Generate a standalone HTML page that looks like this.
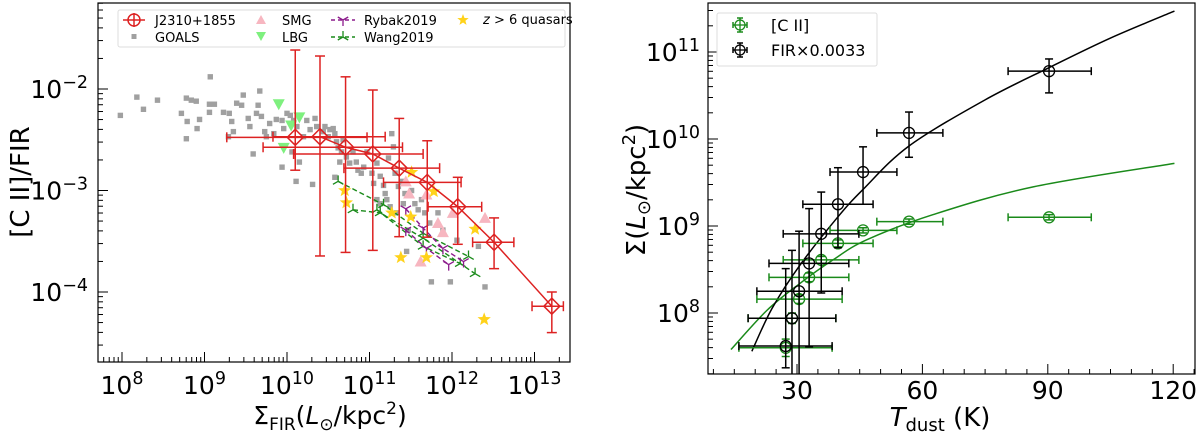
<!DOCTYPE html>
<html><head><meta charset="utf-8"><style>
body{margin:0;background:#fff;width:1200px;height:435px;overflow:hidden}
svg{font-family:"DejaVu Sans","Liberation Sans",sans-serif}
</style></head><body>
<svg id="c" width="1200" height="435" viewBox="0 0 1200 435"></svg>
<script>
// ---------- LEFT PANEL DATA (log10 values) ----------
const goalsX=[7.98,8.18,8.26,8.43,8.72,8.78,8.84,8.90,8.79,8.94,8.91,8.78,9.06,9.12,9.07,9.06,9.23,9.30,9.33,9.29,9.35,9.39,9.45,9.47,9.53,9.55,9.59,9.65,9.67,9.63,9.69,9.73,9.75,9.79,9.84,9.87,9.94,9.96,9.94,10.0,10.04,10.08,10.12,10.06,10.11,10.15,10.20,10.24,10.28,10.31,10.34,10.36,10.44,10.46,10.50,10.52,10.56,10.58,10.60,10.62,10.64,10.66,10.58,10.68,10.72,10.76,10.80,10.84,10.86,10.90,10.93,10.97,11.03,11.05,11.09,11.13,11.17,11.19,11.21,11.23,11.27,11.29,11.31,11.35,11.39,11.43,11.47,11.45,11.51,11.55,11.59,11.63,11.67,11.73,11.75,11.83,11.89,11.98,12.06,12.32,12.40,11.25,11.33,11.41,11.09,11.13];
const goalsY=[-2.26,-2.08,-2.20,-2.11,-2.24,-2.09,-2.11,-2.12,-2.32,-2.30,-2.39,-2.49,-2.15,-2.15,-1.88,-2.23,-2.23,-2.24,-2.32,-2.47,-2.42,-2.14,-2.16,-2.06,-2.29,-2.37,-2.64,-2.16,-2.02,-2.24,-2.27,-2.42,-2.47,-2.34,-2.44,-2.30,-2.31,-2.39,-2.77,-2.24,-2.26,-2.31,-2.37,-2.62,-2.91,-2.72,-2.47,-2.31,-2.40,-2.94,-2.29,-2.37,-2.42,-2.37,-2.47,-2.40,-2.39,-2.44,-2.52,-2.58,-2.72,-2.62,-2.87,-2.50,-2.67,-2.73,-2.62,-2.72,-2.80,-2.83,-2.77,-2.62,-2.83,-2.93,-2.73,-2.86,-2.95,-3.03,-3.09,-2.68,-2.44,-2.57,-2.83,-2.96,-2.91,-3.03,-3.39,-3.60,-3.00,-3.13,-3.19,-3.09,-3.22,-3.32,-3.90,-3.22,-3.39,-3.90,-3.49,-3.55,-3.95,-3.16,-3.22,-3.13,-3.09,-3.13];
const lbgX=[9.90,10.15,10.05,9.96];
const lbgY=[-2.15,-2.28,-2.36,-2.58];
const smgX=[11.44,11.48,11.69,11.83,11.89,12.01,12.40,11.62];
const smgY=[-2.91,-3.03,-3.04,-3.32,-3.41,-3.22,-3.27,-3.70];
const qsoX=[10.70,10.72,11.27,11.50,11.38,11.69,11.51,11.78,12.28,12.39];
const qsoY=[-3.00,-3.12,-3.22,-3.26,-3.66,-3.66,-2.82,-3.01,-3.38,-4.27];
const rybakAX=[11.44,11.65,11.89,12.14], rybakAY=[-3.18,-3.37,-3.57,-3.70];
const rybakBX=[11.44,11.69,11.96], rybakBY=[-3.39,-3.57,-3.73];
const wang1X=[10.62,11.17,11.65,12.20], wang1Y=[-2.91,-3.14,-3.42,-3.65];
const wang2X=[10.80,11.13,11.65,12.28], wang2Y=[-3.19,-3.22,-3.47,-3.82];
const wang3X=[11.09,11.65,12.10], wang3Y=[-3.19,-3.55,-3.72];
const jX=[10.10,10.40,10.71,11.04,11.36,11.70,12.07,12.51,13.21];
const jY=[-2.476,-2.47,-2.574,-2.64,-2.78,-2.92,-3.16,-3.51,-4.14];
const jXlo=[9.27,9.83,9.71,10.08,10.69,11.17,11.71,12.25,12.97];
const jXhi=[10.97,11.19,11.40,11.65,11.85,12.11,12.36,12.75,13.35];
const jYhi=[-1.616,-1.675,-1.88,-2.01,-2.29,-2.51,-2.87,-3.27,-4.0];
const jYlo=[-2.80,-3.645,-3.61,-3.59,-3.455,-3.46,-3.53,-3.77,-4.40];
const lxTicks=[8,9,10,11,12,13], lyTicks=[-2,-3,-4];
// ---------- RIGHT PANEL DATA ----------
const tdust=[90.3,56.8,45.8,39.8,35.8,32.9,30.5,28.8,27.3];
const tLo=[80.5,49.1,37.9,31.4,26.7,23.3,20.4,18.3,16.1];
const tHi=[100.4,64.9,53.9,48.2,44.8,42.4,40.8,39.3,38.4];
const firLog=[10.78,10.07,9.62,9.25,8.91,8.57,8.25,7.94,7.62];
const firHi=[10.92,10.31,9.91,9.67,9.39,9.20,8.94,8.72,8.51];
const firLo=[10.53,9.79,9.25,8.75,8.23,7.61,7.0,7.0,7.37];
const ciiLog=[9.10,9.05,8.95,8.80,8.61,8.41,8.16,7.94,7.60];
const ciiErr=[0.03,0.03,0.03,0.04,0.04,0.05,0.05,0.06,0.10];
const firCurveT=[19.2,24,30.7,39.7,45.8,56.8,75,90.3,105,120.3];
const firCurveL=[7.56,8.05,8.55,9.10,9.42,9.92,10.45,10.82,11.16,11.47];
const ciiCurveT=[14.2,22.8,30.7,38.6,46.6,62.5,86.5,120.3];
const ciiCurveL=[7.58,8.03,8.34,8.61,8.84,9.13,9.45,9.72];
const rxTicks=[30,60,90,120], ryTicks=[8,9,10,11];

const NS='http://www.w3.org/2000/svg', svg=document.getElementById('c');
function el(t,a,p){const e=document.createElementNS(NS,t);for(const k in a)e.setAttribute(k,a[k]);(p||svg).appendChild(e);return e;}
function grp(name){const g=el('g',{});return g;}
const LX=l=>122+(l-8)*82.5, LY=l=>89+(-2-l)*101.5;
const RX=t=>797+(t-30)*4.18, RY=l=>52+(11-l)*87;
function crPath(xs,ys){let d='M'+xs[0]+','+ys[0];for(let i=0;i<xs.length-1;i++){const x0=xs[Math.max(i-1,0)],y0=ys[Math.max(i-1,0)],x1=xs[i],y1=ys[i],x2=xs[i+1],y2=ys[i+1],x3=xs[Math.min(i+2,xs.length-1)],y3=ys[Math.min(i+2,ys.length-1)];d+=` C${x1+(x2-x0)/6},${y1+(y2-y0)/6} ${x2-(x3-x1)/6},${y2-(y3-y1)/6} ${x2},${y2}`;}return d;}
function sup(g,x,y,base,exp,size,anchor){const t=el('text',{x:x,y:y,'font-size':size,'text-anchor':anchor||'middle',fill:'#000'},g);t.textContent=base;const s=el('tspan',{'font-size':size*0.7,dy:-size*0.4},t);s.textContent=exp;return t;}
function star(g,cx,cy,r,fill){let p='';for(let i=0;i<10;i++){const a=-Math.PI/2+i*Math.PI/5,rr=i%2?r*0.42:r;p+=(cx+rr*Math.cos(a))+','+(cy+rr*Math.sin(a))+' ';}return el('polygon',{points:p,fill:fill},g);}
function ymark(g,cx,cy,r,c,down){const s=down?1:-1;el('path',{d:`M${cx},${cy} L${cx},${cy-s*r} M${cx},${cy} L${cx-r*0.87},${cy+s*r*0.5} M${cx},${cy} L${cx+r*0.87},${cy+s*r*0.5}`,stroke:c,'stroke-width':1.3,fill:'none'},g);}

// ===== LEFT PANEL =====
const lf=grp('left-plot-frame');
el('rect',{x:98,y:3,width:472,height:359,fill:'none',stroke:'#000','stroke-width':1.2},lf);
const lax=grp('left-x-axis');
for(let d=8;d<=13;d++){for(let m=1;m<10;m++){const x=LX(d+Math.log10(m));if(x<98||x>570)continue;el('line',{x1:x,x2:x,y1:362,y2:362-(m==1?10:5),stroke:'#000','stroke-width':1},lax);}}
for(let m=2;m<10;m++){const x=LX(7+Math.log10(m));if(x>98)el('line',{x1:x,x2:x,y1:362,y2:357,stroke:'#000'},lax);}
lxTicks.forEach(v=>{const t=sup(lax,LX(v),394,'10',String(v),25);});
const lxt=el('text',{x:330,y:424,'font-size':25,'text-anchor':'middle'},lax);
lxt.innerHTML='Σ<tspan font-size="17" dy="6">FIR</tspan><tspan dy="-6">(</tspan><tspan font-style="italic">L</tspan><tspan font-size="17" dy="6">⊙</tspan><tspan dy="-6">/kpc</tspan><tspan font-size="17" dy="-10">2</tspan><tspan dy="10">)</tspan>';
const lay=grp('left-y-axis');
for(let d=-5;d<=-2;d++){for(let m=1;m<10;m++){const y=LY(d+Math.log10(m));if(y<3||y>362)continue;el('line',{x1:98,x2:98+(m==1?10:5),y1:y,y2:y,stroke:'#000'},lay);}}
lyTicks.forEach(v=>{const t=sup(lay,88,LY(v)+9,'10','−'+(-v),25,'end');});
const lyt=el('text',{x:0,y:0,'font-size':26,'text-anchor':'middle',transform:'translate(29,182) rotate(-90)'},lay);lyt.textContent='[C II]/FIR';


const gg=grp('goals-points');
goalsX.forEach((v,i)=>{const r=el('rect',{x:LX(v)-2.7,y:LY(goalsY[i])-2.7,width:5.4,height:5.4,fill:'#a0a0a0'},gg);});
const lg=grp('lbg-points');
lbgX.forEach((v,i)=>{const x=LX(v),y=LY(lbgY[i]);const p=el('polygon',{points:`${x-6},${y-5} ${x+6},${y-5} ${x},${y+6}`,fill:'#7ef07e'},lg);});
const sg=grp('smg-points');
smgX.forEach((v,i)=>{const x=LX(v),y=LY(smgY[i]);const p=el('polygon',{points:`${x-6},${y+5} ${x+6},${y+5} ${x},${y-6}`,fill:'#f7b6c0'},sg);});
function dashSeries(name,xs,ys,c,down){const g=grp(name);const X=xs.map(LX),Y=ys.map(LY);el('polyline',{points:X.map((x,i)=>x+','+Y[i]).join(' '),fill:'none',stroke:c,'stroke-width':1.4,'stroke-dasharray':'5,3'},g);X.forEach((x,i)=>ymark(g,x,Y[i],6,c,down));}
dashSeries('wang2019-line-1',wang1X,wang1Y,'#1a8a1a',true);
dashSeries('wang2019-line-2',wang2X,wang2Y,'#1a8a1a',true);
dashSeries('wang2019-line-3',wang3X,wang3Y,'#1a8a1a',true);
dashSeries('rybak2019-line-1',rybakAX,rybakAY,'#8b1a8b',false);
dashSeries('rybak2019-line-2',rybakBX,rybakBY,'#8b1a8b',false);
const qg=grp('quasar-points');
qsoX.forEach((v,i)=>{const s=star(qg,LX(v),LY(qsoY[i]),7,'#ffd21a');});
const jg=grp('j2310-series');const red='#dd2222';
el('polyline',{points:jX.map((v,i)=>LX(v)+','+LY(jY[i])).join(' '),fill:'none',stroke:red,'stroke-width':1.5},jg);
jX.forEach((v,i)=>{const x=LX(v),y=LY(jY[i]);
 el('line',{x1:LX(jXlo[i]),x2:LX(jXhi[i]),y1:y,y2:y,stroke:red,'stroke-width':1.5},jg);
 el('line',{x1:x,x2:x,y1:LY(jYhi[i]),y2:LY(jYlo[i]),stroke:red,'stroke-width':1.5},jg);
 [LX(jXlo[i]),LX(jXhi[i])].forEach(cx=>el('line',{x1:cx,x2:cx,y1:y-5,y2:y+5,stroke:red,'stroke-width':1.5},jg));
 [LY(jYhi[i]),LY(jYlo[i])].forEach(cy=>el('line',{x1:x-5,x2:x+5,y1:cy,y2:cy,stroke:red,'stroke-width':1.5},jg));
 const m=el('polygon',{points:`${x},${y-8} ${x+8},${y} ${x},${y+8} ${x-8},${y}`,fill:'none',stroke:red,'stroke-width':1.5},jg);});
// legend
const lleg=grp('left-legend');
el('rect',{x:118,y:10,width:447,height:37,fill:'#fff',stroke:'#ddd','stroke-width':1,rx:2},lleg);
function ltxt(x,y,s,name){const t=el('text',{x:x,y:y,'font-size':13},lleg);t.innerHTML=s;}
el('line',{x1:123,x2:145,y1:20,y2:20,stroke:red,'stroke-width':1.5},lleg);
el('circle',{cx:134,cy:20,r:6,fill:'none',stroke:red,'stroke-width':1.5},lleg);el('line',{x1:134,x2:134,y1:13,y2:27,stroke:red,'stroke-width':1.5},lleg);
ltxt(155,25,'J2310+1855','legend-j2310');
el('rect',{x:131.5,y:34,width:5,height:5,fill:'#a0a0a0'},lleg);ltxt(155,42,'GOALS','legend-goals');
el('polygon',{points:'256,24 266,24 261,15',fill:'#f7b6c0'},lleg);ltxt(282,25,'SMG','legend-smg');
el('polygon',{points:'256,32 266,32 261,41',fill:'#7ef07e'},lleg);ltxt(282,42,'LBG','legend-lbg');
el('line',{x1:331,x2:355,y1:20,y2:20,stroke:'#8b1a8b','stroke-dasharray':'4,3','stroke-width':1.4},lleg);ymark(lleg,343,20,6,'#8b1a8b',false);ltxt(364,25,'Rybak2019','legend-rybak2019');
el('line',{x1:331,x2:355,y1:37,y2:37,stroke:'#1a8a1a','stroke-dasharray':'4,3','stroke-width':1.4},lleg);ymark(lleg,343,37,6,'#1a8a1a',true);ltxt(364,42,'Wang2019','legend-wang2019');
star(lleg,463,20,6,'#ffd21a');ltxt(483,24,'<tspan font-style="italic">z</tspan> &gt; 6 quasars','legend-quasars');

// ===== RIGHT PANEL =====
const rf=grp('right-plot-frame');
el('rect',{x:708,y:3,width:487,height:371,fill:'none',stroke:'#000','stroke-width':1.2},rf);
const rax=grp('right-x-axis');
for(let t=10;t<=125;t+=5){const x=RX(t);if(x<708||x>1195)continue;el('line',{x1:x,x2:x,y1:374,y2:374-(t%30==0?10:5),stroke:'#000'},rax);}
rxTicks.forEach(v=>{const t=el('text',{x:RX(v),y:399,'font-size':25,'text-anchor':'middle'},rax);t.textContent=v;});
const rxt=el('text',{x:940,y:426,'font-size':26,'text-anchor':'middle'},rax);rxt.innerHTML='<tspan font-style="italic">T</tspan><tspan font-size="18" dy="5">dust</tspan><tspan dy="-5"> (K)</tspan>';

const ray=grp('right-y-axis');
for(let d=7;d<=11;d++){for(let m=1;m<10;m++){const y=RY(d+Math.log10(m));if(y<3||y>374)continue;el('line',{x1:708,x2:708+(m==1?10:5),y1:y,y2:y,stroke:'#000'},ray);}}
ryTicks.forEach(v=>{const t=sup(ray,700,RY(v)+9,'10',String(v),25,'end');});
const ryt=el('text',{x:0,y:0,'font-size':26,'text-anchor':'middle',transform:'translate(645,190) rotate(-90)'},ray);
ryt.innerHTML='Σ(<tspan font-style="italic">L</tspan><tspan font-size="18" dy="5">⊙</tspan><tspan dy="-5">/kpc</tspan><tspan font-size="18" dy="-10">2</tspan><tspan dy="10">)</tspan>';

const clip=el('clipPath',{id:'rc'});el('rect',{x:708,y:3,width:487,height:371},clip);
const grn='#1a8a1a';
const cc=grp('cii-fit-curve');cc.setAttribute('clip-path','url(#rc)');
el('path',{d:crPath(ciiCurveT.map(RX),ciiCurveL.map(RY)),fill:'none',stroke:grn,'stroke-width':1.5},cc);
const fc=grp('fir-fit-curve');fc.setAttribute('clip-path','url(#rc)');
el('path',{d:crPath(firCurveT.map(RX),firCurveL.map(RY)),fill:'none',stroke:'#000','stroke-width':1.5},fc);
function errSeries(name,ys,yh,yl,c){const g=grp(name);g.setAttribute('clip-path','url(#rc)');
 tdust.forEach((t,i)=>{const x=RX(t),y=RY(ys[i]),a=RX(tLo[i]),b=RX(tHi[i]),h=RY(yh[i]),l=RY(yl[i]);
  el('line',{x1:a,x2:b,y1:y,y2:y,stroke:c,'stroke-width':1.5},g);
  [a,b].forEach(v=>el('line',{x1:v,x2:v,y1:y-4,y2:y+4,stroke:c,'stroke-width':1.5},g));
  el('line',{x1:x,x2:x,y1:h,y2:l,stroke:c,'stroke-width':1.5},g);
  [h,l].forEach(v=>el('line',{x1:x-4,x2:x+4,y1:v,y2:v,stroke:c,'stroke-width':1.5},g));
  const m=el('circle',{cx:x,cy:y,r:5.5,fill:'none',stroke:c,'stroke-width':1.3},g);});}
errSeries('cii-series',ciiLog,ciiLog.map((v,i)=>v+ciiErr[i]),ciiLog.map((v,i)=>v-ciiErr[i]),grn);
errSeries('fir-series',firLog,firHi,firLo,'#000');
const rleg=grp('right-legend');
el('rect',{x:717,y:13,width:160,height:53,fill:'#fff',stroke:'#ddd',rx:2},rleg);
[[25,grn,'[C II]','legend-cii'],[50,'#000','FIR×0.0033','legend-fir']].forEach(([y,c,s,n])=>{
 el('line',{x1:733,x2:747,y1:y,y2:y,stroke:c,'stroke-width':1.5},rleg);el('line',{x1:740,x2:740,y1:y-7,y2:y+7,stroke:c,'stroke-width':1.5},rleg);
 [733,747].forEach(v=>el('line',{x1:v,x2:v,y1:y-3,y2:y+3,stroke:c,'stroke-width':1.5},rleg));
 [y-7,y+7].forEach(v=>el('line',{x1:737,x2:743,y1:v,y2:v,stroke:c,'stroke-width':1.5},rleg));
 el('circle',{cx:740,cy:y,r:5,fill:'#fff',stroke:c,'stroke-width':1.3},rleg);el('line',{x1:740,x2:740,y1:y-5,y2:y+5,stroke:c,'stroke-width':1.3},rleg);el('line',{x1:735,x2:745,y1:y,y2:y,stroke:c,'stroke-width':1.3},rleg);
 const t=el('text',{x:771,y:y+6,'font-size':16},rleg);t.textContent=s;});
</script>
</body></html>
